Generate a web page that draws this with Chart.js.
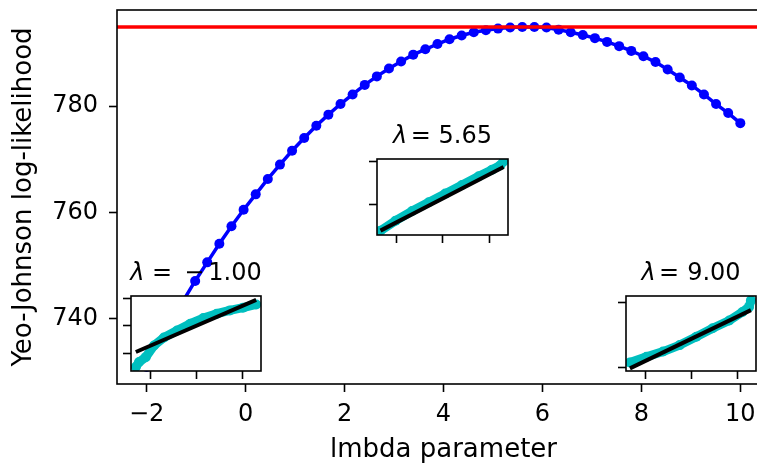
<!DOCTYPE html>
<html>
<head>
<meta charset="utf-8">
<script src="https://cdn.jsdelivr.net/npm/chart.js@4.4.0/dist/chart.umd.min.js"></script>
<style>
  html, body { margin: 0; padding: 0; background: #fff; overflow: hidden; }
  #wrap { position: relative; width: 757px; height: 466px; overflow: hidden; }
  canvas { position: absolute; }
</style>
</head>
<body>
<div id="wrap">
  <canvas id="main" width="790" height="466" style="left:0;top:0"></canvas>
  <canvas id="in1" width="149" height="137" style="left:117px;top:246px"></canvas>
  <canvas id="in2" width="150" height="138" style="left:363px;top:109px"></canvas>
  <canvas id="in3" width="149" height="137" style="left:612px;top:246px"></canvas>
</div>
<script>
// main curve: lambda vs Yeo-Johnson log-likelihood
const lambdas = [-2.000, -1.755, -1.510, -1.265, -1.020, -0.776, -0.531, -0.286, -0.041, 0.204,
  0.449, 0.694, 0.939, 1.184, 1.429, 1.673, 1.918, 2.163, 2.408, 2.653,
  2.898, 3.143, 3.388, 3.633, 3.878, 4.122, 4.367, 4.612, 4.857, 5.102,
  5.347, 5.592, 5.837, 6.082, 6.327, 6.571, 6.816, 7.061, 7.306, 7.551,
  7.796, 8.041, 8.286, 8.531, 8.776, 9.020, 9.265, 9.510, 9.755, 10.000];
const logLik = [730.9, 735.2, 739.3, 743.3, 747.1, 750.6, 754.1, 757.4, 760.5, 763.4,
  766.3, 769.0, 771.6, 774.0, 776.3, 778.4, 780.4, 782.2, 784.0, 785.6,
  787.1, 788.4, 789.7, 790.7, 791.7, 792.6, 793.3, 793.9, 794.3, 794.6,
  794.8, 794.9, 794.9, 794.8, 794.4, 793.9, 793.4, 792.8, 792.1, 791.3,
  790.4, 789.4, 788.3, 786.9, 785.4, 783.9, 782.2, 780.4, 778.7, 776.8];
const maxLogLik = 794.9;
const xTicks = [-2, 0, 2, 4, 6, 8, 10];
const yTicks = [740, 760, 780];
const xMin = -2.6, xMax = 10.6, yMin = 727.7, yMax = 798.1;

// probability plot insets (theoretical quantiles vs ordered values)
const insetLambdas = [-1.00, 5.65, 9.00];
const osm1 = [-2.62, -2.48, -2.19, -1.83, -1.40, -0.83, -0.26, 0.31, 0.89, 1.46, 2.03, 2.60];
const osr1 = [-0.51, -0.33, -0.15, 0.28, 0.57, 0.83, 1.08, 1.29, 1.45, 1.57, 1.67, 1.79];
const fitX1 = [-2.62, 2.60], fitY1 = [0.04, 1.96];
const osm2 = [-2.68, -2.03, -1.32, -0.60, 0.11, 0.83, 1.55, 2.12, 2.48, 2.62];
const osr2 = [-0.59, -0.36, -0.14, 0.06, 0.26, 0.46, 0.66, 0.81, 0.91, 1.00];
const fitX2 = [-2.68, 2.62], fitY2 = [-0.59, 0.87];
const osm3 = [-2.66, -1.94, -1.22, -0.50, 0.22, 0.93, 1.65, 2.22, 2.51, 2.59];
const osr3 = [0.08, 0.17, 0.25, 0.35, 0.48, 0.61, 0.73, 0.86, 0.94, 1.04];
const fitX3 = [-2.66, 2.59], fitY3 = [-0.01, 0.89];
const insetXTicks = [-2, 0, 2];

const FONT = '"DejaVu Sans", sans-serif';
const pts = (xs, ys) => xs.map((x, i) => ({x: x, y: ys[i]}));
const minus = v => (v < 0 ? '\u2212' + Math.abs(v) : '' + v);
const noPad = s => { s.paddingTop = 0; s.paddingBottom = 0; s.paddingLeft = 0; s.paddingRight = 0; };

const framePlugin = {
  id: 'frame',
  beforeDraw(chart, args, opts) {
    if (!opts.fill) return;
    const a = chart.chartArea, ctx = chart.ctx;
    ctx.save();
    ctx.fillStyle = '#fff';
    ctx.fillRect(a.left, a.top, a.right - a.left, a.bottom - a.top);
    ctx.restore();
  },
  afterDraw(chart) {
    const a = chart.chartArea, ctx = chart.ctx;
    ctx.save();
    ctx.strokeStyle = '#000';
    ctx.lineWidth = 1.6;
    ctx.strokeRect(a.left, a.top, a.right - a.left, a.bottom - a.top);
    ctx.restore();
  }
};

const titlePlugin = {
  id: 'insetTitle',
  afterDraw(chart, args, opts) {
    if (!opts.parts) return;
    const a = chart.chartArea, ctx = chart.ctx;
    ctx.save();
    const fonts = opts.parts.map(p => (p.italic ? 'italic ' : '') + '24px ' + FONT);
    const widths = opts.parts.map((p, i) => { ctx.font = fonts[i]; return ctx.measureText(p.t).width; });
    let total = 0;
    opts.parts.forEach((p, i) => { total += widths[i] + (p.gap || 0); });
    let x = (a.left + a.right) / 2 - total / 2;
    ctx.fillStyle = '#000';
    ctx.textBaseline = 'alphabetic';
    ctx.textAlign = 'left';
    opts.parts.forEach((p, i) => {
      x += p.gap || 0;
      ctx.font = fonts[i];
      ctx.fillText(p.t, x, a.top - 16.5);
      x += widths[i];
    });
    ctx.restore();
  }
};

new Chart(document.getElementById('main'), {
  type: 'line',
  data: {
    datasets: [
      { data: pts([xMin, xMax], [maxLogLik, maxLogLik]), borderColor: '#ff0000', borderWidth: 3.4, pointRadius: 0 },
      { data: pts(lambdas, logLik), borderColor: '#0000ff', borderWidth: 3.5, pointRadius: 5,
        pointBackgroundColor: '#0000ff', pointBorderWidth: 0 }
    ]
  },
  options: {
    responsive: false, animation: false, events: [],
    layout: { padding: { top: 10, right: 20, left: 0, bottom: 0 } },
    plugins: { legend: { display: false }, tooltip: { enabled: false }, frame: {} },
    scales: {
      x: {
        type: 'linear', min: xMin, max: xMax,
        afterBuildTicks: s => { s.ticks = xTicks.map(v => ({value: v})); },
        afterFit: s => { s.height = 82; noPad(s); },
        grid: { drawOnChartArea: false, drawTicks: true, tickLength: 8, tickWidth: 1.6, tickColor: '#000' },
        border: { display: false },
        ticks: { color: '#000', font: { family: FONT, size: 24 }, padding: 8, maxRotation: 0, callback: v => minus(v) },
        title: { display: true, text: 'lmbda parameter', color: '#000', font: { family: FONT, size: 26 }, padding: { top: 0, bottom: 0 } }
      },
      y: {
        type: 'linear', min: yMin, max: yMax,
        afterBuildTicks: s => { s.ticks = yTicks.map(v => ({value: v})); },
        afterFit: s => { s.width = 117; noPad(s); },
        grid: { drawOnChartArea: false, drawTicks: true, tickLength: 8, tickWidth: 1.6, tickColor: '#000' },
        border: { display: false },
        ticks: { color: '#000', font: { family: FONT, size: 24 }, padding: 11 },
        title: { display: true, text: 'Yeo-Johnson log-likelihood', color: '#000', font: { family: FONT, size: 26 }, padding: { top: 9, bottom: 0 } }
      }
    }
  },
  plugins: [framePlugin]
});

function makeInset(id, osm, osr, fitX, fitY, yr, yt, parts) {
  new Chart(document.getElementById(id), {
    type: 'line',
    data: {
      datasets: [
        { data: pts(fitX, fitY), borderColor: '#000', borderWidth: 4, pointRadius: 0, clip: 0 },
        { data: pts(osm, osr), borderColor: '#00bfbf', borderWidth: 9, borderCapStyle: 'round', borderJoinStyle: 'round',
          pointRadius: 5, pointBackgroundColor: '#00bfbf', pointBorderWidth: 0, clip: 0 }
      ]
    },
    options: {
      responsive: false, animation: false, events: [],
      layout: { padding: { top: 50, right: 4, left: 0, bottom: 0 } },
      plugins: { legend: { display: false }, tooltip: { enabled: false }, frame: { fill: true }, insetTitle: { parts: parts } },
      scales: {
        x: {
          type: 'linear', min: -2.83, max: 2.81,
          afterBuildTicks: s => { s.ticks = insetXTicks.map(v => ({value: v})); },
          afterFit: s => { s.height = 12; noPad(s); },
          grid: { drawOnChartArea: false, drawTicks: true, tickLength: 8, tickWidth: 1.6, tickColor: '#000' },
          border: { display: false },
          ticks: { display: false }
        },
        y: {
          type: 'linear', min: yr[0], max: yr[1],
          afterBuildTicks: s => { s.ticks = yt.map(v => ({value: v})); },
          afterFit: s => { s.width = 14; noPad(s); },
          grid: { drawOnChartArea: false, drawTicks: true, tickLength: 8, tickWidth: 1.6, tickColor: '#000' },
          border: { display: false },
          ticks: { display: false }
        }
      }
    },
    plugins: [framePlugin, titlePlugin]
  });
}

const lam = v => v.toFixed(2);
makeInset('in1', osm1, osr1, fitX1, fitY1, [-0.66, 2.1], [0, 1, 2],
  [{t: '\u03bb', italic: true}, {t: '=', gap: 7.5}, {t: '\u2212', gap: 12}, {t: lam(Math.abs(insetLambdas[0])), gap: 4}]);
makeInset('in2', osm2, osr2, fitX2, fitY2, [-0.69, 1.055], [0, 1],
  [{t: '\u03bb', italic: true}, {t: '=', gap: 3.5}, {t: lam(insetLambdas[1]), gap: 7.6}]);
makeInset('in3', osm3, osr3, fitX3, fitY3, [-0.05, 1.108], [0, 1],
  [{t: '\u03bb', italic: true}, {t: '=', gap: 3.5}, {t: lam(insetLambdas[2]), gap: 8}]);
</script>
</body>
</html>
